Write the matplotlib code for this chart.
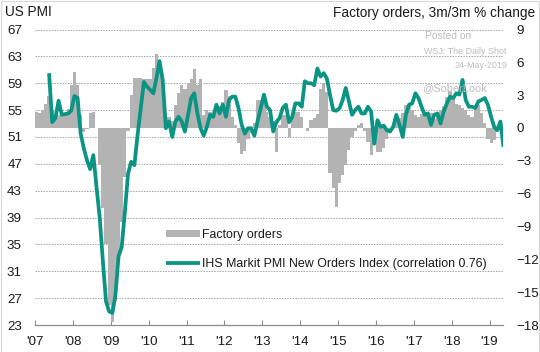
import numpy as np
import pandas as pd
import matplotlib
matplotlib.use("Agg")
import matplotlib.pyplot as plt
import matplotlib.dates as mdates
from matplotlib.patches import Rectangle

plt.rcParams['font.family'] = ['Liberation Sans', 'DejaVu Sans']

# ---------------- data ----------------
fo_start = "2007-01"
factory_orders = [
    1.5, 1.4, 1.6, 2.2, 2.9, 1.6, 1.2, 1.2, 1.2, 1.3, 1.7, 3.9,            # 2007
    5.1, 3.9, 1.2, -0.4, -0.1, 1.4, 1.5, 0.0, -3.4, -7.3, -10.6, -16.2,    # 2008
    -17.7, -15.8, -11.9, -8.6, -4.5, -0.3, 3.0, 4.6, 4.6, 4.6, 4.5, 4.5,   # 2009
    4.5, 5.5, 6.8, 6.0, 4.3, 1.2, 1.0, 0.6, 2.1, 3.2, 3.9, 3.6,            # 2010
    4.1, 4.5, 5.4, 3.9, 4.5, 1.2, 1.6, 1.5, 1.3, 1.8, 2.0, 2.4,            # 2011
    3.5, 2.9, 1.0, 0.3, -1.4, -2.4, -2.1, -1.0, -0.5, 0.5, 2.6, 2.6,       # 2012
    2.4, 1.5, 1.0, 0.6, -2.2, 0.3, 1.2, 1.2, -0.8, 1.0, 1.5, 1.5,          # 2013
    1.0, 0.0, -0.3, 0.7, 0.9, 1.3, 3.6, 4.1, 3.3, -4.1, -5.5, -7.2,        # 2014
    -5.0, -4.3, -3.4, -2.0, -0.8, -0.3, 0.3, 0.45, -0.3, -1.25, -2.5, -1.5,# 2015
    -2.2, -2.2, -1.8, -1.0, -0.3, 0.3, 0.6, 0.9, 1.4, 2.1, 2.0, 1.6,       # 2016
    1.2, 1.0, 1.3, 1.2, 1.5, 1.4, 0.8, 1.3, 1.6, 2.0, 2.8, 3.4,            # 2017
    2.7, 2.2, 2.1, 1.8, 1.6, 1.2, 1.0, 1.9, 2.1, 1.4, 0.5, -1.0,           # 2018
    -1.4, -1.1,                                                            # 2019
]

pmi_start = "2007-05"
pmi_new_orders = [
    60.5, 53.2, 53.8, 56.4, 54.3, 54.4, 54.5, 54.9,                        # 2007
    57.1, 56.8, 51.5, 49.3, 47.5, 46.2, 48.3, 43.5, 39.0, 32.5, 26.5, 25.0,# 2008
    24.8, 27.5, 33.2, 34.6, 39.8, 45.5, 47.3, 46.8, 51.3, 55.3, 59.2, 58.5,# 2009
    58.0, 57.5, 59.7, 62.3, 59.5, 52.3, 53.3, 51.0, 53.3, 54.0, 53.3, 51.8,# 2010
    54.3, 56.8, 57.5, 54.5, 52.3, 51.2, 52.5, 54.3, 54.0, 55.8, 54.5, 55.8,# 2011
    54.0, 56.5, 57.0, 57.0, 55.3, 52.8, 51.5, 52.3, 52.3, 51.2, 53.3, 55.3,# 2012
    57.3, 55.5, 55.0, 51.8, 53.2, 53.8, 55.3, 55.8, 53.2, 54.0, 56.0, 56.0,# 2013
    55.5, 59.3, 59.0, 59.0, 58.7, 61.2, 60.0, 60.5, 59.7, 57.2, 55.0, 54.9,# 2014
    55.3, 56.5, 58.3, 56.3, 54.3, 55.0, 55.5, 54.5, 54.5, 55.5, 54.8, 50.0,# 2015
    53.5, 52.5, 52.7, 52.0, 51.8, 52.5, 54.3, 52.8, 51.0, 54.3, 55.8, 56.0,# 2016
    57.5, 56.8, 55.5, 54.3, 54.5, 52.8, 54.3, 54.5, 53.0, 54.8, 56.0, 57.0,# 2017
    56.8, 57.5, 57.3, 59.5, 56.5, 55.5, 55.5, 55.3, 56.3, 56.5, 56.8, 55.8,# 2018
    54.0, 52.5, 52.0, 53.3, 49.5,                                          # 2019
]

year_ticks = [str(y) + "-01-01" for y in range(2007, 2020)]
year_labels = ["'07", "'08", "'09", "'10", "'11", "'12", "'13",
               "'14", "'15", "'16", "'17", "'18", "'19"]
pmi_ticks = [23, 27, 31, 35, 39, 43, 47, 51, 55, 59, 63, 67]
fo_ticks = [-18, -15, -12, -9, -6, -3, 0, 3, 6, 9]

# ---------------- derived positions ----------------
fo_months = pd.period_range(fo_start, periods=len(factory_orders), freq="M")
fo_left = mdates.date2num(fo_months.to_timestamp(how="start"))
fo_width = np.asarray(fo_months.days_in_month, dtype=float)

pmi_months = pd.period_range(pmi_start, periods=len(pmi_new_orders), freq="M")
pmi_x = mdates.date2num(pmi_months.to_timestamp(how="start")) + \
    np.asarray(pmi_months.days_in_month, dtype=float) / 2.0

xt = mdates.date2num(pd.to_datetime(year_ticks))
x0 = mdates.date2num(pd.Timestamp("2007-01-01"))
x1 = mdates.date2num(pd.Timestamp("2019-05-14"))

# ---------------- figure ----------------
W, H = 540, 352
fig = plt.figure(figsize=(W / 100, H / 100), dpi=100)
fig.patch.set_facecolor("white")

L, R, T, B = 35, 503.3, 29.5, 325
ax_grid = fig.add_axes([L / W, 1 - B / H, (R - L) / W, (B - T) / H])
ax_bars = ax_grid.twinx()
ax_line = ax_grid.twinx()

txt_col = "#1a1a1a"
grid_col = "#a6a6a6"
axis_col = "#8c8c8c"

# grid / left axis
ax_grid.set_ylim(23, 67)
ax_grid.set_yticks(pmi_ticks)
ax_grid.yaxis.grid(True, linestyle=(0, (1.4, 1.2)), color=grid_col, linewidth=0.75)
ax_grid.tick_params(axis="y", length=0, pad=9.4, labelsize=9.6, labelcolor=txt_col)
ax_grid.set_xlim(x0, x1)
ax_grid.set_xticks(xt)
ax_grid.set_xticklabels(year_labels)
ax_grid.tick_params(axis="x", direction="in", length=3.5, width=0.8, color=axis_col,
                    pad=8, labelsize=9.6, labelcolor=txt_col)
for s in ["top", "left", "right"]:
    ax_grid.spines[s].set_visible(False)
ax_grid.spines["bottom"].set_color(axis_col)
ax_grid.spines["bottom"].set_linewidth(0.9)

# bars / right axis
bars = ax_bars.bar(fo_left, factory_orders, width=fo_width, align="edge",
                   color="#b3b3b3", linewidth=0, label="Factory orders")
ax_bars.set_ylim(-18, 9)
ax_bars.set_yticks(fo_ticks)
ax_bars.tick_params(axis="y", length=0, pad=9.4, labelsize=9.6, labelcolor=txt_col)
for s in ["top", "left", "right", "bottom"]:
    ax_bars.spines[s].set_visible(False)

# line
line, = ax_line.plot(pmi_x, pmi_new_orders, color="#0a9484", linewidth=2.7,
                     solid_joinstyle="round", solid_capstyle="butt",
                     label="IHS Markit PMI New Orders Index (correlation 0.76)")
ax_line.set_ylim(23, 67)
ax_line.set_yticks([])
for s in ["top", "left", "right", "bottom"]:
    ax_line.spines[s].set_visible(False)
ax_line.set_xlim(x0, x1)

# legend
leg = ax_line.legend(handles=[bars, line], loc="upper left",
                     bbox_to_anchor=(166 / W, 1 - 229 / H), bbox_transform=fig.transFigure,
                     frameon=False, fontsize=8.9, handlelength=2.75, handleheight=0.5,
                     handletextpad=0.2, labelspacing=1.4, borderpad=0, borderaxespad=0)
for t in leg.get_texts():
    t.set_color(txt_col)

# titles
fig.text(5 / W, 1 - 15.5 / H, "US PMI", fontsize=9.8, color=txt_col, va="baseline", ha="left")
fig.text(535 / W, 1 - 17.5 / H, "Factory orders, 3m/3m % change", fontsize=9.8,
         color=txt_col, va="baseline", ha="right")

# watermark
wm = "#bdbdbd"
fig.text(425 / W, 1 - 39 / H, "Posted on", fontsize=7.4, color=wm, va="baseline", ha="left")
fig.text(507 / W, 1 - 53.5 / H, "WSJ: The Daily Shot", fontsize=6.4, color=wm, va="baseline", ha="right")
fig.text(507 / W, 1 - 68 / H, "24-May-2019", fontsize=6.4, color=wm, va="baseline", ha="right")
fig.text(422 / W, 1 - 91 / H, "@SoberLook", fontsize=7.9, color=wm, va="baseline", ha="left")

# thin frame around the chart
fig.patches.append(Rectangle((0.5 / W, 0.5 / H), (W - 1.5) / W, (H - 1.5) / H,
                             transform=fig.transFigure, fill=False,
                             edgecolor="#d9d9d9", linewidth=0.8))

fig.savefig("out.png", dpi=100, facecolor="white")
